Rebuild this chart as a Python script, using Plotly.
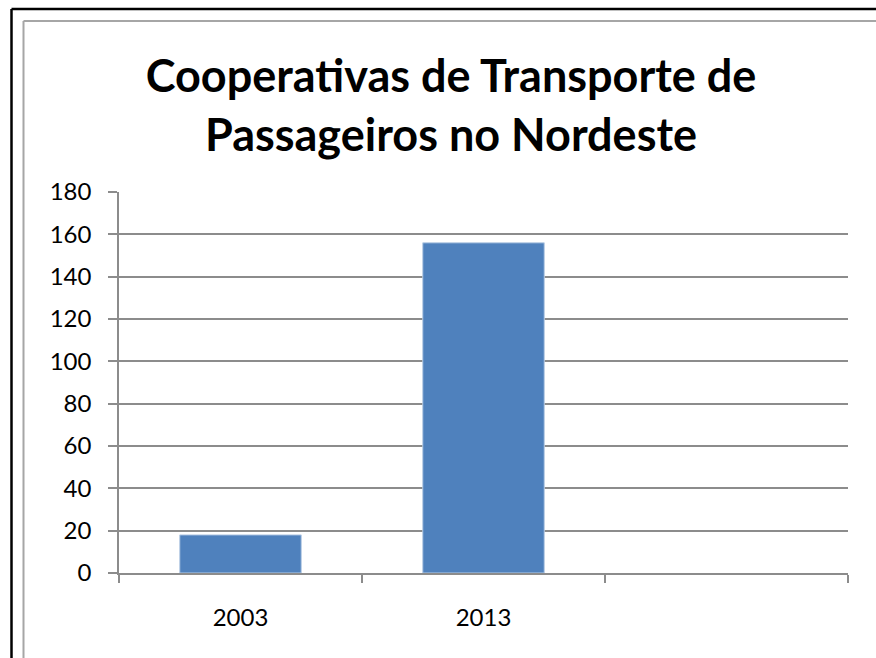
import plotly.graph_objects as go

categories = ["2003", "2013", " "]
values = [18, 156, None]
y_ticks = [0, 20, 40, 60, 80, 100, 120, 140, 160, 180]
title_lines = ["Cooperativas de Transporte de", "Passageiros no Nordeste"]

W, H = 876, 658
L, R, T, B = 119, 28, 192, 85
pw, ph = W - L - R, H - T - B

def px_x(p):
    return (p - L) / pw

def px_y(p):
    return (H - B - p) / ph

fig = go.Figure(go.Bar(
    x=categories, y=values, width=0.5,
    marker=dict(color="#4F81BD", line=dict(color="#B9CDE5", width=1)),
))

fig.update_layout(
    width=W, height=H,
    margin=dict(l=L, r=R, t=T, b=B),
    paper_bgcolor="white", plot_bgcolor="white",
    showlegend=False,
    font=dict(family="Lato", color="black"),
    title=dict(
        text="<br>".join(title_lines),
        font=dict(family="Lato", size=45, weight="bold", color="black"),
        x=451 / W, xanchor="center", xref="container",
        y=1 - 92 / H, yanchor="middle", yref="container",
    ),
    xaxis=dict(
        type="category", categoryorder="array", categoryarray=categories,
        range=[-0.5, 2.5], tickson="boundaries", ticks="outside", ticklen=8,
        tickcolor="#8C8C8C", tickwidth=1.5, showline=True, linecolor="#8C8C8C", linewidth=1.5,
        showgrid=False, tickfont=dict(size=24, family="Lato"),
        ticklabelstandoff=22,
    ),
    yaxis=dict(
        range=[0, 180], tickvals=y_ticks, ticks="outside", ticklen=9,
        tickcolor="#8C8C8C", tickwidth=1.5, showline=True, linecolor="#8C8C8C", linewidth=1.5,
        showgrid=True, gridcolor="#8C8C8C", gridwidth=1.5, zeroline=False,
        tickfont=dict(size=24, family="Lato"), ticklabelstandoff=12,
    ),
    shapes=[
        dict(type="line", xref="paper", yref="paper", x0=px_x(11.5), x1=px_x(W + 5), y0=px_y(9), y1=px_y(9),
             line=dict(color="black", width=2.5)),
        dict(type="line", xref="paper", yref="paper", x0=px_x(11.5), x1=px_x(11.5), y0=px_y(9), y1=px_y(H + 5),
             line=dict(color="black", width=2.5)),
        dict(type="line", xref="paper", yref="paper", x0=px_x(23.5), x1=px_x(W + 5), y0=px_y(21), y1=px_y(21),
             line=dict(color="#A6A6A6", width=2)),
        dict(type="line", xref="paper", yref="paper", x0=px_x(23.5), x1=px_x(23.5), y0=px_y(21), y1=px_y(H + 5),
             line=dict(color="#A6A6A6", width=2)),
    ],
)

fig.write_html("out.html", config={"displayModeBar": False},
               post_script="document.body.style.margin='0';")
